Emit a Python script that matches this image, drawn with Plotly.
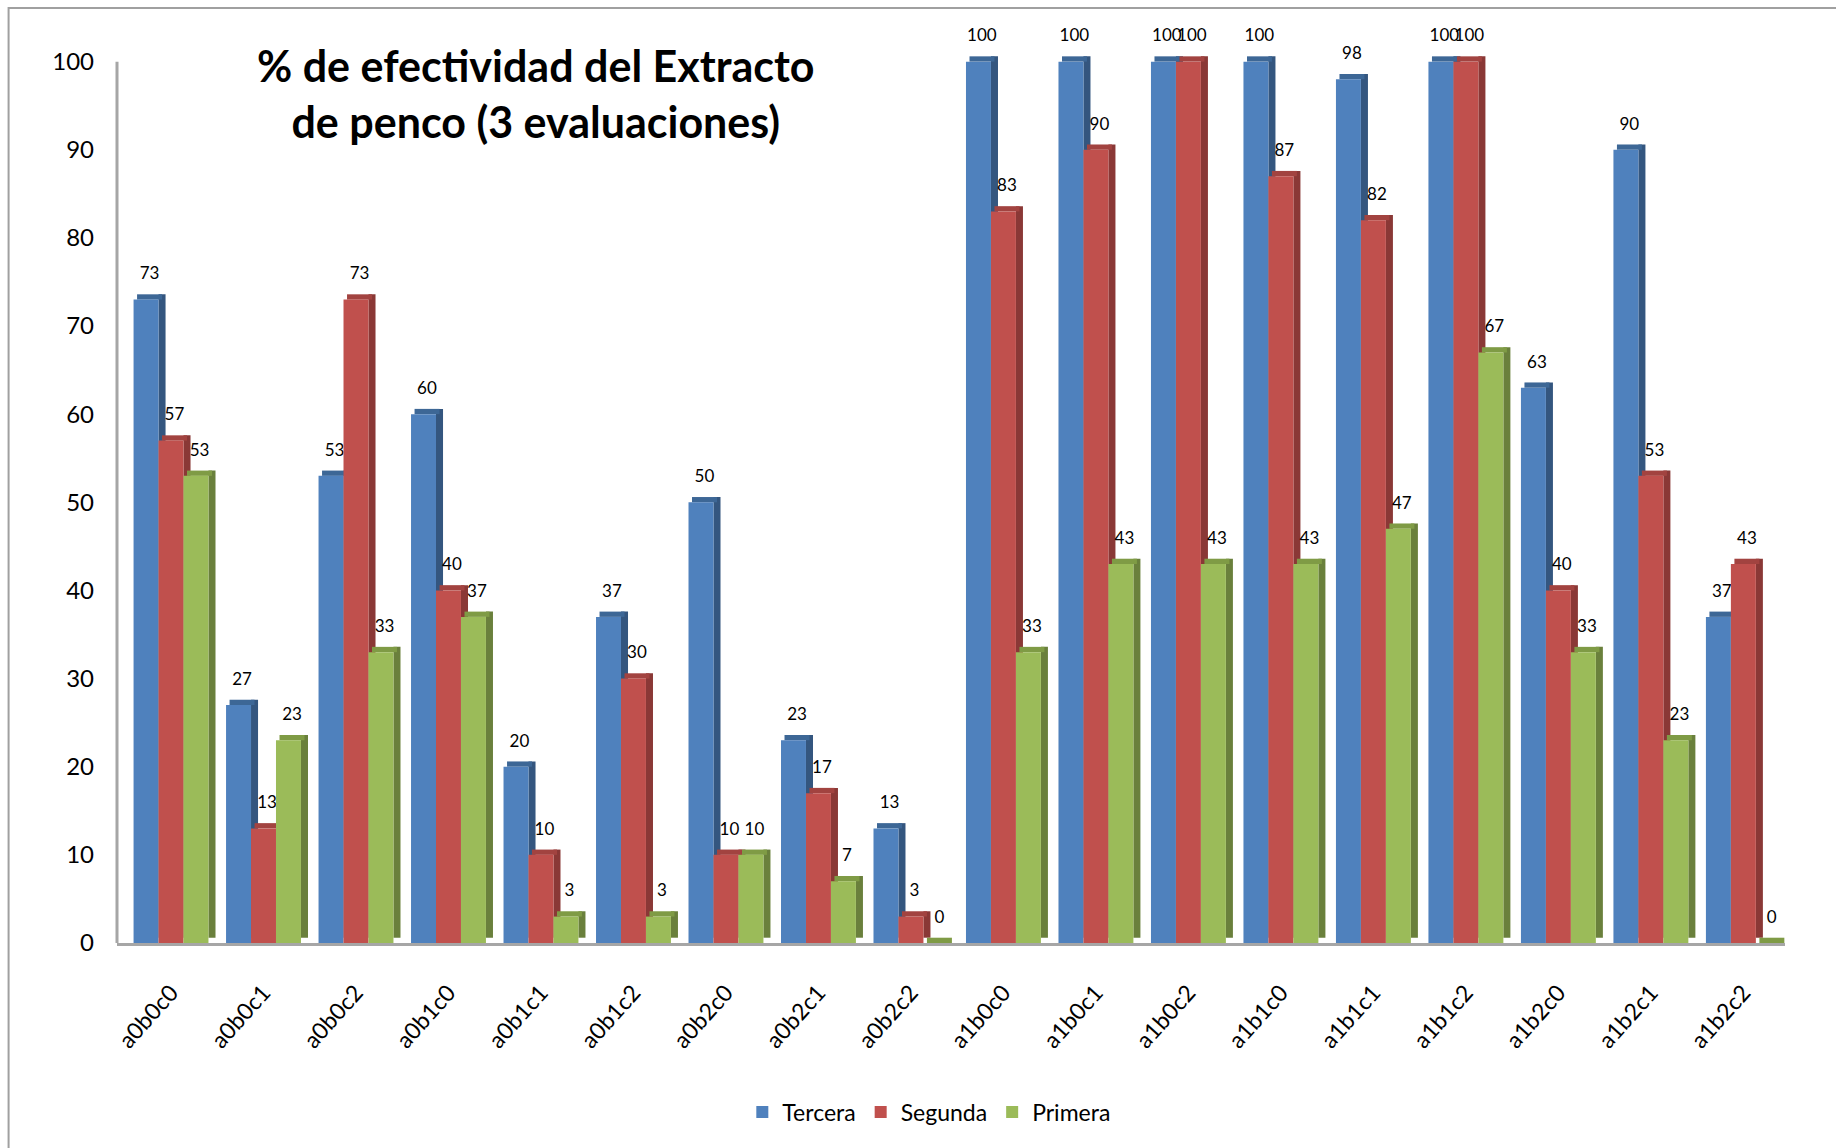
import plotly.graph_objects as go

categories = ["a0b0c0", "a0b0c1", "a0b0c2", "a0b1c0", "a0b1c1", "a0b1c2",
              "a0b2c0", "a0b2c1", "a0b2c2", "a1b0c0", "a1b0c1", "a1b0c2",
              "a1b1c0", "a1b1c1", "a1b1c2", "a1b2c0", "a1b2c1", "a1b2c2"]
tercera = [73, 27, 53, 60, 20, 37, 50, 23, 13, 100, 100, 100, 100, 98, 100, 63, 90, 37]
segunda = [57, 13, 73, 40, 10, 30, 10, 17, 3, 83, 90, 100, 87, 82, 100, 40, 53, 43]
primera = [53, 23, 33, 37, 3, 3, 10, 7, 0, 33, 43, 43, 43, 47, 67, 33, 23, 0]
series_names = ["Tercera", "Segunda", "Primera"]
y_ticks = [0, 10, 20, 30, 40, 50, 60, 70, 80, 90, 100]
title_text = "% de efectividad del Extracto<br>de penco (3 evaluaciones)"

front_colors = ["#4F81BD", "#C0504D", "#9BBB59"]
side_colors = ["#34567F", "#8A3836", "#6A803C"]
top_colors = ["#3D6796", "#A24340", "#7F9B45"]

BW = 0.27     # front face width (category units)
DX = 0.076    # depth width
DY = 0.6      # depth height (value units)
YMAX = 102    # axis headroom so the 3D tops of 100-bars are drawn

fig = go.Figure()
all_vals = [tercera, segunda, primera]
for i, (name, vals) in enumerate(zip(series_names, all_vals)):
    off = -0.405 + i * BW
    # side face
    fig.add_trace(go.Bar(
        x=categories, y=vals, base=DY, offset=off + BW, width=DX,
        marker=dict(color=side_colors[i], line=dict(width=0)),
        showlegend=False, hoverinfo="skip"))
    # top face
    fig.add_trace(go.Bar(
        x=categories, y=[DY] * len(vals), base=vals, offset=off + DX / 2, width=BW,
        marker=dict(color=top_colors[i], line=dict(width=0)),
        showlegend=False, hoverinfo="skip", cliponaxis=False))
    # value labels (transparent carrier above the top face)
    fig.add_trace(go.Bar(
        x=categories, y=[DY + 0.9] * len(vals), base=vals, offset=off + DX / 2, width=BW,
        marker=dict(color="rgba(0,0,0,0)", line=dict(width=0)),
        text=[str(v) for v in vals], textposition="outside",
        textfont=dict(family="Lato", size=17, color="black"),
        constraintext="none", cliponaxis=False,
        showlegend=False, hoverinfo="skip"))
    # front face
    fig.add_trace(go.Bar(
        x=categories, y=vals, offset=off, width=BW, name=name,
        marker=dict(color=front_colors[i], line=dict(width=0)),
        cliponaxis=False))

# plot area: y=0 at 943px, y=100 at 62px
px_per_unit = (943 - 62) / 100.0
top_margin = 62 - (YMAX - 100) * px_per_unit

fig.update_layout(
    width=1836, height=1148,
    barmode="overlay",
    margin=dict(l=117, r=51, t=top_margin, b=205),
    paper_bgcolor="white", plot_bgcolor="white",
    font=dict(family="Lato", color="black"),
    showlegend=True,
    legend=dict(orientation="h", x=0.487, xanchor="center", y=-0.188, yanchor="middle",
                font=dict(family="Lato", size=23, color="black"), traceorder="normal"),
    xaxis=dict(type="category", range=[-0.584, 17.45], showline=True,
               linecolor="#A6A6A6", linewidth=3, showgrid=False, zeroline=False,
               ticks="", tickangle=-48, ticklabelstandoff=24,
               tickfont=dict(family="Lato", size=23, color="black")),
    yaxis=dict(range=[0, YMAX], tickvals=y_ticks, showline=False,
               showgrid=False, zeroline=False,
               ticks="", ticklabelstandoff=22,
               tickfont=dict(family="Lato", size=24, color="black")),
    annotations=[dict(text=title_text, xref="paper", yref="paper",
                      x=0.251, y=0.945, xanchor="center", yanchor="middle",
                      showarrow=False,
                      font=dict(family="Lato", size=43, color="black", weight="bold"))],
    shapes=[
        dict(type="rect", xref="paper", yref="paper",
             x0=-0.065, x1=1.05, y0=-0.3, y1=1.04,
             line=dict(color="#A0A0A0", width=2), fillcolor="rgba(0,0,0,0)",
             layer="below"),
        dict(type="line", xref="paper", yref="y", x0=0, x1=0, y0=0, y1=100,
             line=dict(color="#A6A6A6", width=3), layer="below"),
    ],
)

fig.write_html("out.html")
